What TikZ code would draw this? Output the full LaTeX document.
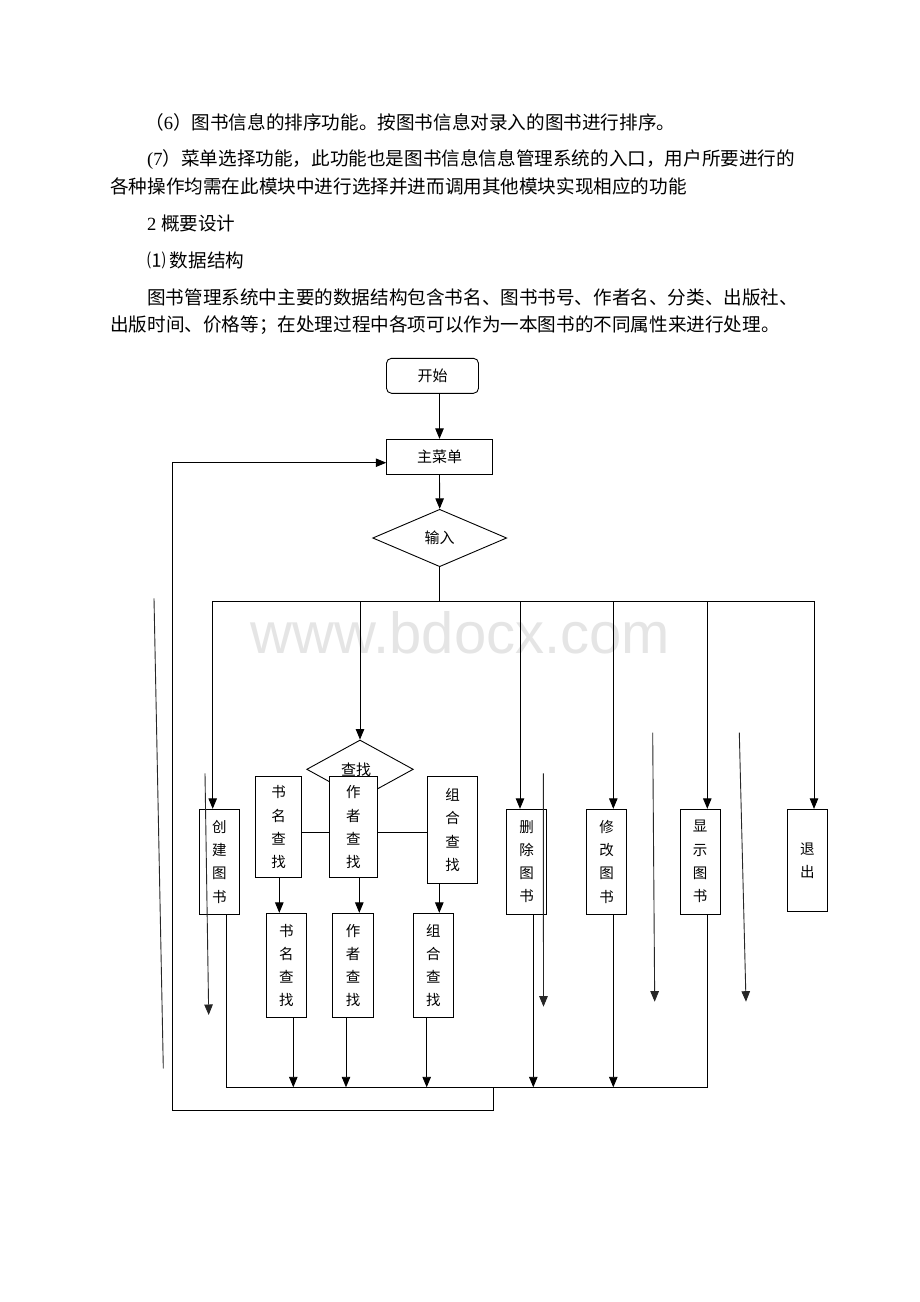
\documentclass[tikz,border=0pt]{standalone}
\usepackage{fontspec}
\setmainfont{Liberation Serif}
\newfontfamily\cjk{Noto Sans CJK SC}
\newfontfamily\wmfont{Liberation Sans}
\usetikzlibrary{shapes.geometric,arrows.meta}
\begin{document}
\begin{tikzpicture}[x=1pt,y=-1pt,
  box/.style={draw, line width=0.9pt, fill=white, inner sep=0pt, align=center,
    font=\cjk\fontsize{14.5pt}{23.3pt}\selectfont},
  hbox/.style={box, font=\cjk\fontsize{15pt}{18pt}\selectfont},
  ln/.style={line width=0.9pt},
  arr/.style={line width=0.9pt, -{Triangle[length=10.5pt,width=8.5pt]}},
  stray/.style={line width=0.9pt, black!85},
  para/.style={anchor=base west, inner sep=0pt, font=\fontsize{18.6pt}{27pt}\selectfont},
]
\path[use as bounding box, fill=white] (0,0) rectangle (920,1302);

% watermark
\node[anchor=base, inner sep=0pt, text=black!10,
  font=\wmfont\fontsize{58pt}{58pt}\selectfont] (wm) at (460.5,653) {www.bdocx.com};

% paragraph text
\node[para] (t1) at (145,129) {{\cjk （}6{\cjk ）图书信息的排序功能。按图书信息对录入的图书进行排序。}};
\node[para] (t2) at (147,165.5) {(7{\cjk ）菜单选择功能，此功能也是图书信息信息管理系统的入口，用户所要进行的}};
\node[para] (t3) at (110,193) {\cjk 各种操作均需在此模块中进行选择并进而调用其他模块实现相应的功能};
\node[para] (t4) at (147,230) {2 {\cjk 概要设计}};
\node[para] (t5) at (147,267) {\cjk ⑴ 数据结构};
\node[para] (t6) at (147,304) {\cjk 图书管理系统中主要的数据结构包含书名、图书书号、作者名、分类、出版社、};
\node[para] (t7) at (110,331.5) {\cjk 出版时间、价格等；在处理过程中各项可以作为一本图书的不同属性来进行处理。};

% main nodes
\node[hbox, rounded corners=5pt, minimum width=92pt, minimum height=35pt] (start) at (432.5,375.8) {开始};
\node[hbox, minimum width=105.6pt, minimum height=35pt] (menu) at (439.5,456.8) {主菜单};
\node[hbox, diamond, minimum width=134pt, minimum height=57.4pt] (input) at (439.7,538) {输入};

\node[box, minimum width=40pt, minimum height=104.7pt] (create) at (219.3,861.6) {创\\建\\图\\书};
\node[hbox, diamond, minimum width=106.6pt, minimum height=58.6pt] (find) at (360,769.3) {\hspace*{-8pt}查找};
\node[box, minimum width=46.4pt, minimum height=101pt] (s1) at (278.5,827.2) {书\\名\\查\\找};
\node[box, minimum width=48pt, minimum height=101pt] (a1) at (353.3,827.2) {作\\者\\查\\找};
\node[box, minimum width=49.6pt, minimum height=106.6pt] (c1) at (452.5,830) {组\\合\\查\\找};
\node[box, minimum width=40.7pt, minimum height=104.4pt] (s2) at (286.3,965.5) {书\\名\\查\\找};
\node[box, minimum width=40.7pt, minimum height=104.4pt] (a2) at (353,965.5) {作\\者\\查\\找};
\node[box, minimum width=40pt, minimum height=104.4pt] (c2) at (433.3,965.5) {组\\合\\查\\找};
\node[box, minimum width=40pt, minimum height=104.7pt] (del) at (526.7,861.6) {删\\除\\图\\书};
\node[box, minimum width=40pt, minimum height=104.7pt] (mod) at (606.7,861.6) {修\\改\\图\\书};
\node[box, minimum width=40pt, minimum height=104.7pt] (show) at (700,861.6) {显\\示\\图\\书};
\node[box, minimum width=40pt, minimum height=102.4pt] (quit) at (807.3,860.5) {退\\出};

% top flow
\draw[arr] (start.south -| menu.north) -- (menu.north);
\draw[arr] (menu.south) -- (input.north);
\coordinate (busM) at (439.7,601);
\coordinate (busL) at (212.7,601);
\coordinate (busR) at (814,601);
\coordinate (bF) at (360,601);
\coordinate (bD) at (520,601);
\coordinate (bM) at (613.3,601);
\coordinate (bS) at (707.3,601);
\draw[ln] (input.south) -- (busM);
\draw[ln] (busL) -- (busR);
\draw[arr] (busL) -- (busL |- create.north);
\draw[arr] (bF) -- (find.north);
\draw[arr] (bD) -- (bD |- del.north);
\draw[arr] (bM) -- (bM |- mod.north);
\draw[arr] (bS) -- (bS |- show.north);
\draw[arr] (busR) -- (busR |- quit.north);

% search sub boxes
\coordinate (hy) at (0,832.7);
\draw[ln] (s1.east |- hy) -- (a1.west |- hy);
\draw[ln] (a1.east |- hy) -- (c1.west |- hy);
\draw[arr] ([xshift=0.8pt]s1.south) -- ([xshift=0.8pt]s1.south |- s2.north);
\draw[arr] ([xshift=6pt]a1.south) -- ([xshift=6pt]a1.south |- a2.north);
\draw[arr] ([xshift=-13.2pt]c1.south) -- ([xshift=-13.2pt]c1.south |- c2.north);

% bottom bus
\coordinate (bb) at (0,1087.3);
\coordinate (bbR) at (707.3,1087.3);
\draw[ln] ([xshift=6.7pt]create.south) |- (bbR) -- ([xshift=7.3pt]show.south);
\draw[arr] ([xshift=7pt]s2.south) -- ([xshift=7pt]s2.south |- bb);
\draw[arr] ([xshift=-7pt]a2.south) -- ([xshift=-7pt]a2.south |- bb);
\draw[arr] ([xshift=-6.6pt]c2.south) -- ([xshift=-6.6pt]c2.south |- bb);
\draw[arr] ([xshift=6.6pt]del.south) -- ([xshift=6.6pt]del.south |- bb);
\draw[arr] ([xshift=6.6pt]mod.south) -- ([xshift=6.6pt]mod.south |- bb);

% return path
\coordinate (r0) at (493.6,1087.3);
\coordinate (r1) at (172.3,1110.5);
\coordinate (r2) at (172.3,462.7);
\draw[arr] (r0) |- (r1) -- (r2) -- (r2 -| menu.west);

% stray lines
\coordinate (x1a) at (154,598.3);   \coordinate (x1b) at (163.3,1068.3);
\coordinate (x2a) at (205,773.3);   \coordinate (x2b) at (208.7,1015);
\coordinate (x3a) at (543.3,773.3); \coordinate (x3b) at (543.5,1006.7);
\coordinate (x4a) at (652.7,732.7); \coordinate (x4b) at (654.7,1001.7);
\coordinate (x5a) at (739.3,732.7); \coordinate (x5b) at (746,1001.7);
\draw[stray] (x1a) -- (x1b);
\draw[stray, -{Triangle[length=10.5pt,width=8.5pt]}] (x2a) -- (x2b);
\draw[stray, -{Triangle[length=10.5pt,width=8.5pt]}] (x3a) -- (x3b);
\draw[stray, -{Triangle[length=10.5pt,width=8.5pt]}] (x4a) -- (x4b);
\draw[stray, -{Triangle[length=10.5pt,width=8.5pt]}] (x5a) -- (x5b);
\end{tikzpicture}
\end{document}
